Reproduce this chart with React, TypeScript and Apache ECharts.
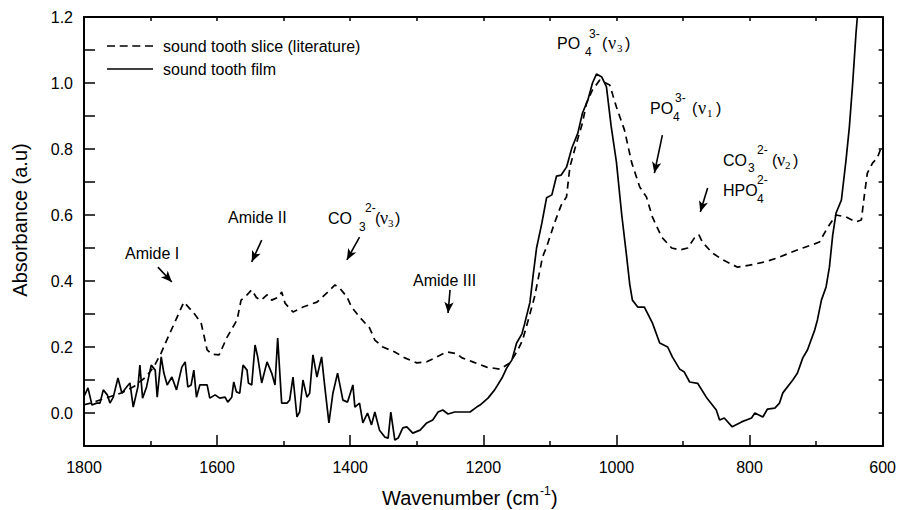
import React, { useEffect, useRef } from "react";
import * as echarts from "echarts";

// Wavenumber (cm-1), absorbance (a.u)
const filmWave = [1800,1794,1788,1781,1776,1771,1765,1761,1756,1749,1743,1736,1731,1726,1719,1716,1712,1706,1699,1693,1690,1684,1680,1675,1668,1661,1653,1648,1644,1639,1635,1631,1626,1615,1611,1603,1596,1588,1584,1578,1575,1571,1566,1561,1555,1553,1548,1543,1539,1533,1525,1518,1513,1509,1503,1495,1491,1486,1480,1476,1471,1465,1461,1456,1450,1443,1438,1432,1426,1419,1411,1404,1396,1393,1386,1381,1374,1368,1363,1356,1348,1343,1339,1333,1328,1321,1315,1306,1295,1285,1276,1268,1261,1253,1243,1231,1220,1210,1205,1193,1183,1172,1165,1157,1150,1142,1138,1130,1125,1120,1112,1105,1097,1090,1083,1075,1067,1058,1051,1043,1036,1030,1022,1015,1008,1000,992,985,980,976,968,958,946,935,923,916,905,898,890,878,865,850,845,838,826,812,797,792,780,773,762,755,750,735,728,720,713,702,698,692,685,680,675,670,662,655,650,645,640,638];
const filmAbs = [0.05,0.076,0.024,0.03,0.03,0.07,0.055,0.03,0.048,0.106,0.06,0.079,0.091,0.018,0.079,0.145,0.045,0.079,0.145,0.13,0.048,0.17,0.121,0.085,0.109,0.07,0.139,0.155,0.079,0.085,0.13,0.048,0.085,0.085,0.045,0.055,0.045,0.048,0.033,0.048,0.094,0.064,0.06,0.145,0.13,0.091,0.085,0.206,0.17,0.091,0.155,0.121,0.085,0.227,0.03,0.03,0.039,0.109,-0.012,0.003,0.1,0.048,0.06,0.176,0.109,0.17,0.076,-0.03,0.06,0.121,0.039,0.033,0.085,0.018,0.03,-0.03,0,-0.036,0.003,-0.052,-0.073,-0.076,0.003,-0.082,-0.076,-0.045,-0.042,-0.061,-0.052,-0.03,-0.021,0.003,0.009,-0.003,0.003,0.003,0.003,0.018,0.024,0.045,0.07,0.106,0.136,0.161,0.212,0.24,0.27,0.335,0.42,0.5,0.576,0.652,0.661,0.718,0.721,0.745,0.803,0.848,0.909,0.948,1.0,1.027,1.018,0.988,0.87,0.76,0.6,0.48,0.39,0.342,0.321,0.321,0.273,0.212,0.2,0.17,0.133,0.124,0.094,0.09,0.048,0.009,-0.021,-0.015,-0.042,-0.027,-0.015,0,-0.012,0.012,0.015,0.03,0.061,0.1,0.121,0.167,0.191,0.252,0.282,0.342,0.382,0.442,0.54,0.606,0.645,0.767,0.867,1.0,1.152,1.2];

const sliceWave = [1800,1790,1775,1760,1745,1735,1725,1707,1695,1684,1677,1662,1650,1635,1624,1615,1608,1597,1585,1570,1564,1555,1548,1541,1534,1525,1518,1507,1503,1498,1486,1471,1450,1435,1423,1416,1405,1398,1386,1371,1363,1351,1333,1318,1300,1285,1270,1255,1240,1232,1216,1195,1175,1160,1148,1141,1130,1123,1111,1105,1093,1083,1075,1070,1060,1051,1045,1036,1025,1010,1000,988,977,965,955,946,932,917,905,893,883,876,871,856,840,818,800,777,758,740,720,707,695,683,670,655,640,632,627,623,615,608,602,600];
const sliceAbs = [0.025,0.03,0.04,0.05,0.06,0.07,0.08,0.109,0.14,0.182,0.215,0.282,0.336,0.303,0.273,0.191,0.178,0.176,0.23,0.282,0.342,0.358,0.373,0.35,0.342,0.358,0.342,0.352,0.367,0.333,0.306,0.321,0.336,0.364,0.388,0.379,0.352,0.321,0.291,0.258,0.221,0.2,0.185,0.167,0.152,0.155,0.17,0.185,0.18,0.167,0.155,0.139,0.133,0.152,0.191,0.221,0.3,0.352,0.473,0.503,0.576,0.63,0.655,0.745,0.818,0.879,0.939,0.979,1.009,0.994,0.927,0.858,0.758,0.685,0.655,0.594,0.533,0.5,0.494,0.5,0.53,0.54,0.518,0.485,0.464,0.442,0.448,0.458,0.47,0.485,0.5,0.509,0.518,0.561,0.6,0.594,0.579,0.585,0.667,0.727,0.758,0.773,0.806,0.81];

const seriesNames = ["sound tooth slice (literature)", "sound tooth film"];
const xTicks = [1800, 1600, 1400, 1200, 1000, 800, 600];

// annotation arrows: [fromWave, fromAbs, toWave, toAbs]
const arrows = [
  [1689, 0.442, 1668, 0.397],
  [1533, 0.524, 1548, 0.458],
  [1386, 0.533, 1405, 0.464],
  [1250, 0.373, 1253, 0.303],
  [931, 0.842, 943, 0.727],
  [863, 0.682, 874, 0.609],
];

const SANS = '"Liberation Sans", Arial, Helvetica, sans-serif';
const SERIF = '"Liberation Serif", "Times New Roman", serif';

const DASH_ICON = "path://M0,0h8v1.7h-8zM12.7,0h8v1.7h-8zM25.3,0h8v1.7h-8zM38,0h8v1.7h-8z";
const SOLID_ICON = "path://M0,0h46v1.7h-46z";

type Part = [string, number, number, number, boolean?];

function textEl(t: string, x: number, y: number, size: number, serif = false) {
  return {
    type: "text",
    x,
    y,
    silent: true,
    style: {
      text: t,
      fill: "#000",
      font: `${size}px ${serif ? SERIF : SANS}`,
      textAlign: "left",
      align: "left",
      textVerticalAlign: "middle",
      verticalAlign: "middle",
    },
  };
}

function formula(x: number, y: number, parts: Part[]) {
  return parts.map(([t, dx, dy, s, serif]) => textEl(t, x + dx, y + dy, s, !!serif));
}

export default function App() {
  const ref = useRef<HTMLDivElement>(null);
  useEffect(() => {
    if (!ref.current) return;
    const chart = echarts.init(ref.current, null, { renderer: "svg" });
    const film = filmWave.map((w, i) => [w, filmAbs[i]]);
    const slice = sliceWave.map((w, i) => [w, sliceAbs[i]]);

    const graphics: any[] = [
      ...formula(125, 253, [["Amide I", 0, 0, 16]]),
      ...formula(228, 217, [["Amide II", 0, 0, 16]]),
      ...formula(413, 280, [["Amide III", 0, 0, 16]]),
      ...formula(328, 218, [
        ["CO", 0, 0, 16], ["3", 31, 9, 12], ["2-", 37, -10, 12],
        ["(", 47, 0, 16], ["ν", 52, 0, 18, true], ["3", 60, 5, 11, true], [")", 67, 0, 16],
      ]),
      ...formula(557, 43, [
        ["PO", 0, 0, 16], ["4", 28, 9, 12], ["3-", 32, -9, 12],
        ["(", 45, 0, 16], ["ν", 51, 0, 18, true], ["3", 60, 5, 11, true], [")", 68, 0, 16],
      ]),
      ...formula(650, 108, [
        ["PO", 0, 0, 16], ["4", 23, 9, 12], ["3-", 25, -10, 12],
        ["(", 42, 0, 16], ["ν", 48, 0, 18, true], ["1", 57, 5, 11, true], [")", 66, 0, 16],
      ]),
      ...formula(723, 160, [
        ["CO", 0, 0, 16], ["3", 25, 8, 12], ["2-", 34, -10, 12],
        ["(", 49, 0, 16], ["ν", 54, 0, 18, true], ["2", 62, 5, 11, true], [")", 70, 0, 16],
      ]),
      ...formula(723, 190, [["HPO", 0, 0, 16], ["4", 34, 9, 12], ["2-", 34, -10, 12]]),
      ...formula(382, 498, [["Wavenumber (cm", 0, 0, 20], ["-1", 158, -7, 12], [")", 169, 0, 20]]),
      {
        type: "text",
        x: 20,
        y: 220,
        rotation: Math.PI / 2,
        silent: true,
        style: {
          text: "Absorbance (a.u)",
          fill: "#000",
          font: `20px ${SANS}`,
          textAlign: "center",
          align: "center",
          textVerticalAlign: "middle",
          verticalAlign: "middle",
        },
      },
    ];

    const axisCommon = {
      type: "value",
      min: 600,
      max: 1800,
      inverse: true,
      splitLine: { show: false },
      axisLine: { show: true, onZero: false, lineStyle: { color: "#000", width: 2 } },
    };
    const yCommon = {
      type: "value",
      min: -0.1,
      max: 1.2,
      interval: 0.1,
      splitLine: { show: false },
      axisLine: { show: true, onZero: false, lineStyle: { color: "#000", width: 2 } },
    };

    chart.setOption({
      animation: false,
      grid: { left: 84, right: 16, top: 17, bottom: 64, containLabel: false },
      legend: {
        data: [
          { name: seriesNames[0], icon: DASH_ICON },
          { name: seriesNames[1], icon: SOLID_ICON },
        ],
        orient: "vertical",
        left: 102,
        top: 33,
        itemWidth: 46,
        itemHeight: 14,
        itemGap: 7,
        selectedMode: false,
        itemStyle: { color: "#000", borderWidth: 0 },
        textStyle: { fontFamily: SANS, fontSize: 16, color: "#000", lineHeight: 16, padding: [0, 0, 0, 5] },
      },
      xAxis: [
        {
          ...axisCommon,
          position: "bottom",
          interval: 200,
          axisTick: { show: true, inside: true, length: 11, lineStyle: { color: "#000", width: 1.5 } },
          minorTick: { show: true, splitNumber: 2, length: 5, lineStyle: { color: "#000", width: 1.5 } },
          axisLabel: {
            show: true,
            margin: 13,
            fontFamily: SANS,
            fontSize: 16,
            color: "#000",
            formatter: (v: number) => (xTicks.includes(v) ? String(v) : ""),
          },
        },
        {
          ...axisCommon,
          position: "top",
          interval: 100,
          axisTick: { show: true, inside: true, length: 4, lineStyle: { color: "#000", width: 1.5 } },
          axisLabel: { show: false },
        },
      ],
      yAxis: [
        {
          ...yCommon,
          position: "left",
          axisTick: { show: true, inside: true, length: 11, lineStyle: { color: "#000", width: 1.5 } },
          axisLabel: {
            show: true,
            margin: 11,
            fontFamily: SANS,
            fontSize: 16,
            color: "#000",
            formatter: (v: number) => {
              const k = Math.round(v * 10);
              return k >= 0 && k % 2 === 0 ? (k / 10).toFixed(1) : "";
            },
          },
        },
        {
          ...yCommon,
          position: "right",
          axisTick: { show: true, inside: true, length: 4, lineStyle: { color: "#000", width: 1.5 } },
          axisLabel: { show: false },
        },
      ],
      series: [
        {
          name: seriesNames[0],
          type: "line",
          data: slice,
          showSymbol: false,
          symbol: "none",
          lineStyle: { color: "#000", width: 1.7, type: [7, 5] },
          itemStyle: { color: "#000" },
          z: 3,
          markLine: {
            silent: true,
            symbol: ["none", "arrow"],
            symbolSize: [7, 11],
            label: { show: false },
            lineStyle: { color: "#000", width: 1.6, type: "solid" },
            emphasis: { disabled: true },
            data: arrows.map(([a, b, c, d]) => [{ coord: [a, b] }, { coord: [c, d] }]),
          },
        },
        {
          name: seriesNames[1],
          type: "line",
          data: film,
          showSymbol: false,
          symbol: "none",
          lineStyle: { color: "#000", width: 1.7, type: "solid" },
          itemStyle: { color: "#000" },
          z: 4,
        },
      ],
      graphic: graphics,
    });
    return () => chart.dispose();
  }, []);
  return <div ref={ref} style={{ width: 899, height: 510, position: "absolute", left: 0, top: 0 }} />;
}
